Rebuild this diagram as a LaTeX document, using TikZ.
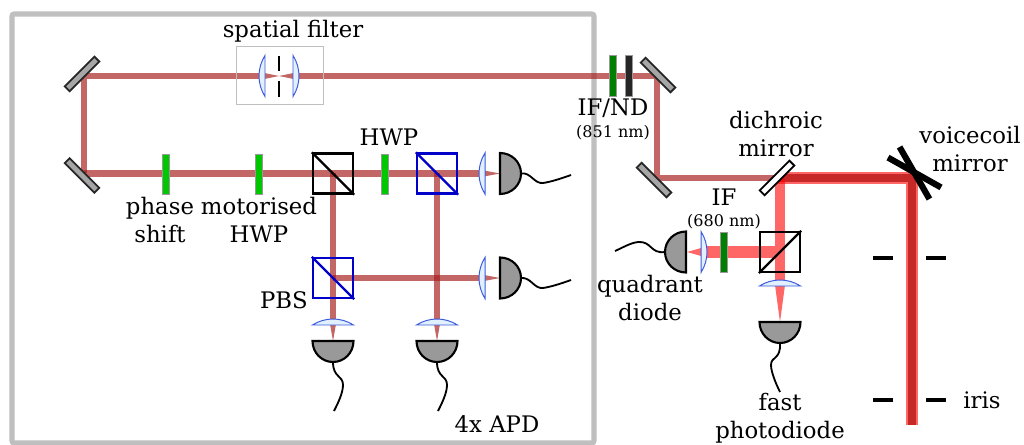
\documentclass[tikz,border=0pt]{standalone}
\usepackage{fontspec}
\setmainfont{DejaVu Serif}
\usetikzlibrary{backgrounds, positioning}
\definecolor{beamIR}{RGB}{165,30,30}
\definecolor{beamRed}{RGB}{255,0,0}
\definecolor{beamDark}{RGB}{198,40,40}
\definecolor{plateGreen}{RGB}{0,200,0}
\definecolor{filterGreen}{RGB}{0,128,0}
\definecolor{opticBlue}{RGB}{0,0,200}
\definecolor{lensBlue}{RGB}{60,90,220}
\definecolor{lensFill}{RGB}{225,240,255}
\begin{document}
\begin{tikzpicture}
	[
	x=0.025cm, y=-0.025cm,
        etiqueta/.style={
            align=center,
            inner sep=0pt,
            font=\fontsize{16.2}{19.6}\selectfont
        },
        etiquetaChica/.style={
            align=center,
            inner sep=0pt,
            font=\fontsize{11.4}{13}\selectfont
        },
        cubo/.style={
            rectangle,
            draw=black,
            line width=1.6pt,
            inner sep=0pt,
            minimum size=1cm
        },
        cuboAzul/.style={
            cubo,
            draw=opticBlue
        },
        diagonal/.style={
            line width=1.6pt
        },
        placa/.style={
            rectangle,
            draw=black!40,
            line width=0.7pt,
            fill=plateGreen,
            inner sep=0pt,
            minimum width=0.16cm,
            minimum height=1cm
        },
        filtro/.style={
            placa,
            fill=filterGreen
        },
        densidad/.style={
            placa,
            fill=black!85
        },
        espejo/.style={
            rectangle,
            draw=black!85,
            line width=1.3pt,
            fill=black!35,
            inner sep=0pt,
            minimum width=1.05cm,
            minimum height=0.17cm
        },
        dicroico/.style={
            espejo,
            draw=black,
            fill=white
        },
        haz/.style={
            draw=beamIR,
            draw opacity=0.68,
            line width=4.6pt
        },
        cono/.style={
            fill=beamIR,
            fill opacity=0.68
        },
        hazRojo/.style={
            draw=beamRed,
            draw opacity=0.6,
            line width=8.6pt
        },
        hazOscuro/.style={
            draw=beamDark,
            line width=5.2pt
        },
        conoRojo/.style={
            fill=beamRed,
            fill opacity=0.6
        },
        cable/.style={
            draw=black,
            line width=1.3pt
        },
        bobina/.style={
            draw=black,
            line width=4.4pt
        },
        iris/.style={
            draw=black,
            line width=2.2pt
        },
        lens/.pic={
            \path[draw=lensBlue, line width=0.7pt, fill=lensFill]
                (0,-20.5) .. controls (-8,-8) and (-8,8) .. (0,20.5) -- cycle;
        },
        detector/.pic={
            \path[draw=black, line width=1.5pt, fill=black!40]
                (0,-20.5) .. controls (11.5,-20.5) and (21,-11.5) .. (21,0)
                .. controls (21,11.5) and (11.5,20.5) .. (0,20.5) -- cycle;
            \coordinate (-tip) at (21,0);
        }
    ]
    \useasboundingbox (0,0) rectangle (1024,445);

    % mirrors and cubes
    \node(mirrorTL) [espejo, rotate=45] at (82,74) {};
    \node(mirrorBL) [espejo, rotate=-45] at (82,175.5) {};
    \node(mirrorTR) [espejo, rotate=-45] at (658,75) {};
    \node(mirrorBR) [espejo, rotate=-45] at (654,180) {};
    \node(dichroic) [dicroico, rotate=45, minimum height=0.17cm] at (777,178) {};
    \coordinate (voicecoil) at (912,178);

    \node(bsInput) [cubo] at (333,173.5) {};
    \node(pbsRight) [cuboAzul] at (437,173.5) {};
    \node(pbsLeft) [cuboAzul] at (333,278) {};
    \node(bsPickoff) [cubo] at (780,252) {};

    \node(platePhase) [placa] at (166,174) {};
    \node(plateMotor) [placa] at (259,174) {};
    \node(plateHWP) [placa] at (385,174) {};
    \node(filterIF) [filtro] at (613,76) {};
    \node(filterND) [densidad] at (629,76) {};
    \node(filterQuad) [filtro] at (724,252) {};

    \node(filterBox) [draw=black!25, line width=0.7pt, minimum width=2.175cm, minimum height=1.425cm, inner sep=0pt] at (279.5,75.5) {};
    \coordinate (pinhole) at (279,76);

    % lenses
    \pic at (265,76) {lens};
    \pic[rotate=180] at (293,76) {lens};
    \pic at (485,173.5) {lens};
    \pic at (485,278) {lens};
    \pic[rotate=-90] at (333,325) {lens};
    \pic[rotate=-90] at (437,325) {lens};
    \pic[rotate=-90] at (780,286) {lens};
    \pic[rotate=180] at (701,252) {lens};

    % detectors
    \pic(apdA) at (500,173.5) {detector};
    \pic(apdB) at (500,278) {detector};
    \pic[rotate=-90](apdC) at (333,341) {detector};
    \pic[rotate=-90](apdD) at (437,341) {detector};
    \pic[rotate=180](quadrant) at (686,252) {detector};
    \pic[rotate=-90](fast) at (780,322) {detector};

    \coordinate (cableA) at (571,175);
    \coordinate (cableB) at (571,280);
    \coordinate (cableC) at (334,411);
    \coordinate (cableD) at (438,411);
    \coordinate (cableQ) at (615,251);
    \coordinate (cableF) at (780,392);
    \draw[cable] (apdA-tip) .. controls (531,172) and (534,184) .. (543,183) .. controls (550,182) and (560,179) .. (cableA);
    \draw[cable] (apdB-tip) .. controls (531,277) and (534,289) .. (543,288) .. controls (550,287) and (560,284) .. (cableB);
    \draw[cable] (apdC-tip) .. controls (333,378) and (343,375) .. (343,385) .. controls (343,393) and (338,403) .. (cableC);
    \draw[cable] (apdD-tip) .. controls (437,378) and (447,375) .. (447,385) .. controls (447,393) and (442,403) .. (cableD);
    \draw[cable] (quadrant-tip) .. controls (650,254) and (652,241) .. (638,242) .. controls (630,243) and (622,248) .. (cableQ);
    \draw[cable] (fast-tip) .. controls (781,360) and (771,356) .. (771,365) .. controls (771,372) and (776,384) .. (cableF);

    % pinhole
    \draw[line width=1.4pt] (279,56) -- (279,71);
    \draw[line width=1.4pt] (279,81) -- (279,97);

    % cube diagonals
    \draw[diagonal] (bsInput.north west) -- (bsInput.south east);
    \draw[diagonal, opticBlue] (pbsRight.north west) -- (pbsRight.south east);
    \draw[diagonal, opticBlue] (pbsLeft.north west) -- (pbsLeft.south east);
    \draw[diagonal] (bsPickoff.south west) -- (bsPickoff.north east);

    % voicecoil
    \node(voicecoilA) [inner sep=0pt] at (887,157) {};
    \node(voicecoilB) [inner sep=0pt] at (942,188) {};
    \node(voicecoilC) [inner sep=0pt] at (899,146) {};
    \node(voicecoilD) [inner sep=0pt] at (930,200) {};
    \draw[bobina] (voicecoilA) -- (voicecoilB);
    \draw[bobina] (voicecoilC) -- (voicecoilD);

    % iris
    \draw[iris] (873,258) -- (893,258);
    \draw[iris] (926,258) -- (946,258);
    \draw[iris] (873,400) -- (893,400);
    \draw[iris] (926,400) -- (946,400);

    % text
    \node(txtFilter) [etiqueta] at (293,31) {spatial filter};
    \node(txtPhase) [etiqueta] at (160,220) {phase\\shift};
    \node(txtMotor) [etiqueta] at (259,220) {motorised\\HWP};
    \node(txtHWP) [etiqueta] at (389,137) {HWP};
    \node(txtPBS) [etiqueta] at (284,300) {PBS};
    \node(txtND) [etiqueta] at (613,108) {IF/ND};
    \node(txtNDnm) [etiquetaChica] at (613,133) {(851 nm)};
    \node(txtDichroic) [etiqueta] at (776,134) {dichroic\\mirror};
    \node(txtVoicecoil) [etiqueta] at (970,149) {voicecoil\\mirror};
    \node(txtIF) [etiqueta] at (724,197) {IF};
    \node(txtIFnm) [etiquetaChica] at (724,222) {(680 nm)};
    \node(txtQuadrant) [etiqueta] at (650,298) {quadrant\\diode};
    \node(txtFast) [etiqueta] at (780,418) {fast\\photodiode};
    \node(txtIris) [etiqueta] at (982,400) {iris};
    \node(txtAPD) [etiqueta] at (497,424) {4x APD};

    \begin{scope}[on background layer]
        \draw[draw=black!25, line width=3.6pt, rounded corners=1.5pt] (12,14) rectangle (594,443);

        \coordinate (lensInL) at (262,76);
        \coordinate (lensInR) at (296,76);
        \draw[haz] (84,173.5) -- (bsInput.center) -- (pbsRight.center) -- (484,173.5);
        \draw[haz] (bsInput.center) -- (pbsLeft.center) -- (333,322);
        \draw[haz] (pbsRight.center) -- (437,322);
        \draw[haz] (pbsLeft.center) -- (484,278);
        \draw[haz] (lensInL) -- (84,76) -- (84,173.5);
        \draw[haz] (lensInR) -- (657,76) -- (657,178) -- (dichroic.center);
        \fill[cono] (262,72.5) -- (279,76) -- (262,79.5) -- cycle;
        \fill[cono] (296,72.5) -- (279,76) -- (296,79.5) -- cycle;
        \fill[cono] (484,170.5) -- (500,173.5) -- (484,176.5) -- cycle;
        \fill[cono] (484,275) -- (500,278) -- (484,281) -- cycle;
        \fill[cono] (330,324) -- (333,341) -- (336,324) -- cycle;
        \fill[cono] (434,324) -- (437,341) -- (440,324) -- cycle;

        \draw[hazRojo] (dichroic.center) -- (voicecoil) -- (912,425);
        \draw[hazOscuro] (dichroic.center) -- (voicecoil) -- (912,425);
        \draw[hazRojo, line width=7.6pt] (780,178) -- (780,285);
        \fill[conoRojo] (775,285) -- (780,322) -- (785,285) -- cycle;
        \draw[hazRojo] (775,252) -- (708,252);
        \fill[conoRojo] (708,246) -- (687,252) -- (708,258) -- cycle;
    \end{scope}
\end{tikzpicture}
\end{document}
